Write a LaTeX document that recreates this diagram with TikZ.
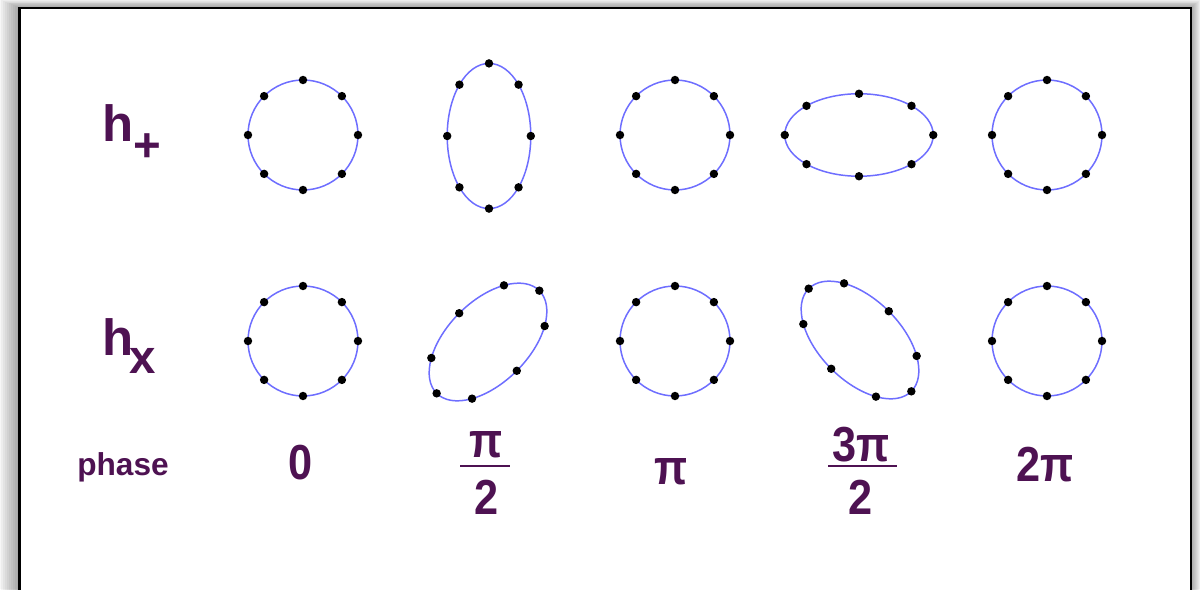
\documentclass[tikz,border=0pt]{standalone}
\usepackage{fontspec}
\setmainfont{Liberation Sans}
\newfontfamily\numfont[FakeStretch=0.88]{Liberation Sans}
\definecolor{txt}{RGB}{78,18,82}
\definecolor{ringblue}{RGB}{110,110,255}
\tikzset{
  ring/.style={draw=ringblue, line width=0.85pt},
  dot/.style={circle, fill=black, inner sep=0pt, minimum size=4.8pt},
  lbl/.style={text=txt, font=\bfseries\fontsize{29}{30}\selectfont, inner sep=0pt},
  sub/.style={text=txt, font=\bfseries\fontsize{27}{28}\selectfont, inner sep=0pt},
  num/.style={text=txt, font=\numfont\bfseries\fontsize{28}{30}\selectfont, inner sep=0pt},
  bar/.style={draw=txt, line width=1.7pt}
}
\begin{document}
\begin{tikzpicture}[x=0.02cm, y=0.02cm]
\useasboundingbox (0,0) rectangle (1200,589);
% background and shadow
\fill[gray!6] (0,0) rectangle (1200,589);
\foreach \k in {1,...,9}
  \fill[black, opacity=0.04] (19.5-2.1*\k,-20) rectangle (1191+\k,581+0.9*\k);
\fill[white] (19.5,-5) rectangle (1191,581);
\draw[black, line width=1.15pt] (19.5,-5) -- (19.5,581) -- (1191,581) -- (1191,-5);

% rings: #1 name, #2 cx, #3 cy, #4 angle, #5 xscale, #6 yscale
\newcommand\ringfig[6]{%
  \begin{scope}[shift={(#2,#3)}, rotate=#4, xscale=#5, yscale=#6, rotate=-#4]
    \draw[ring] (0,0) circle[radius=1.1cm];
    \foreach \t [count=\i] in {0,45,...,315}
      \node[dot] (#1d\i) at (\t:55) {};
  \end{scope}}
% row h+
\ringfig{pa}{303}{454}{0}{1}{1}
\ringfig{pb}{489}{453}{0}{0.76}{1.32}
\ringfig{pc}{675}{454}{0}{1}{1}
\ringfig{pd}{859}{454}{0}{1.35}{0.75}
\ringfig{pe}{1047}{454}{0}{1}{1}
% row hx
\ringfig{xa}{303}{248}{0}{1}{1}
\ringfig{xb}{488}{247}{45}{1.32}{0.74}
\ringfig{xc}{675}{248}{0}{1}{1}
\ringfig{xd}{860}{249}{45}{0.74}{1.32}
\ringfig{xe}{1047}{248}{0}{1}{1}

% row labels
\node[lbl, anchor=base west] (hp) at (102,447) {h};
\node[sub] (hpsub) at (147,441) {+};
\node[lbl, anchor=base west] (hx) at (102,234) {h};
\node[sub] (hxsub) at (143,228) {x};
\node[text=txt, font=\bfseries\fontsize{18}{20}\selectfont, inner sep=0pt, anchor=base west] (phase) at (77,114) {phase};

% phase values
\node[num] (v0) at (301,126) {0};
\node[num] (v1n) at (486.5,144) {π};
\draw[bar] (460,123) -- (510,123);
\node[num] (v1d) at (486.5,91.5) {2};
\node[num] (v2) at (671,117) {π};
\node[num] (v3n) at (861.5,144) {3π};
\draw[bar] (828,123) -- (897,123);
\node[num] (v3d) at (860.5,91.5) {2};
\node[num] (v4) at (1045,124) {2π};
\end{tikzpicture}
\end{document}
